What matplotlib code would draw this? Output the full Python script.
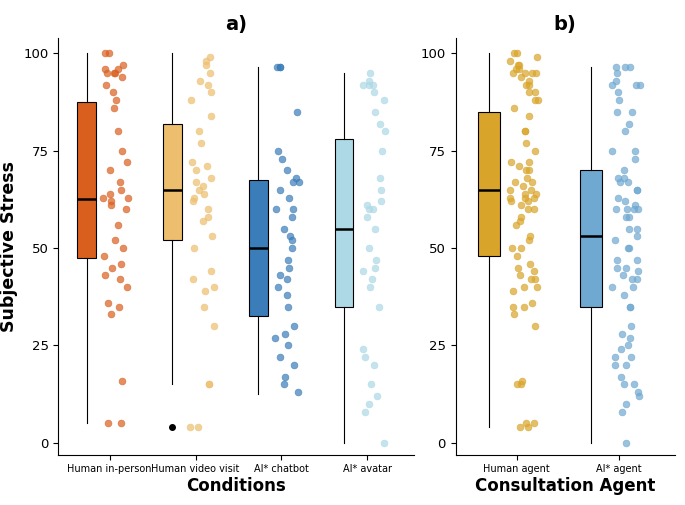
import matplotlib
matplotlib.use("Agg")
import matplotlib.pyplot as plt
import numpy as np

cats_a = ["Human in-person", "Human video visit", "AI* chatbot", "AI* avatar"]
cats_b = ["Human agent", "AI* agent"]
inperson = [100,100,97,96,96,95,95,95,94,92,90,88,86,80,75,72,70,67,65,64,63,63,62,61,60,56,52,50,48,46,45,43,42,40,36,35,33,16,5,5]
video = [99,98,97,95,93,92,90,88,84,80,77,72,71,70,68,67,66,65,64,63,62,60,58,57,53,50,44,42,40,39,35,30,15,15,4,4]
chatbot = [96.5,96.5,96.5,85,75,73,70,68,67,67,65,63,60,60,58,55,53,52,50,47,45,43,42,40,38,35,30,28,27,25,22,20,17,15,13]
avatar = [95,93,92,92,92,90,88,85,82,80,75,68,65,62,61,60,60,58,55,50,47,45,44,42,40,35,24,22,20,15,12,10,8,0]
data_a = [inperson, video, chatbot, avatar]
data_b = [inperson + video, chatbot + avatar]
# box stats: whislo, q1, med, q3, whishi, outliers
stats_a = [(5,47.5,62.5,87.5,100,[]),(15,52,65,82,100,[4]),(12.5,32.5,50,67.5,96.5,[]),(0,35,55,78,95,[])]
stats_b = [(4,48,65,85,100,[]),(0,35,53,70,96.5,[])]
cols_a = ["#D95F1E","#EDBE6E","#3A7DB8","#ADD8E6"]
cols_b = ["#D9A42A","#6FA8D0"]

fig = plt.figure(figsize=(6.85,5.05), dpi=100)
ax1 = fig.add_axes([0.085,0.1,0.52,0.825])
ax2 = fig.add_axes([0.665,0.1,0.32,0.825])
rng = np.random.default_rng(3)

def panel(ax, cats, data, stats, cols, title, xlabel, spread):
    n = len(cats)
    pos = np.arange(n)
    bs = [dict(whislo=s[0], q1=s[1], med=s[2], q3=s[3], whishi=s[4], fliers=s[5]) for s in stats]
    b = ax.bxp(bs, positions=pos-0.27, widths=0.22, patch_artist=True, showcaps=False,
               medianprops=dict(color="black", lw=1.8), whiskerprops=dict(lw=0.8),
               flierprops=dict(marker="o", markerfacecolor="black", markeredgecolor="black", markersize=4))
    for p, c in zip(b["boxes"], cols):
        p.set_facecolor(c); p.set_edgecolor("black"); p.set_linewidth(0.8)
    for i, (d, c) in enumerate(zip(data, cols)):
        x = i + 0.07 + rng.uniform(-spread, spread, len(d))
        ax.scatter(x, d, s=24, color=c, alpha=0.7, edgecolors=c, linewidths=0.5, zorder=3)
    ax.set_xticks(pos); ax.set_xticklabels(cats, fontsize=7)
    ax.set_xlim(-0.6, n-0.45)
    ax.set_ylim(-3, 104)
    ax.set_yticks([0,25,50,75,100])
    ax.tick_params(axis="y", labelsize=9.5)
    ax.set_title(title, fontweight="bold", fontsize=14)
    ax.set_xlabel(xlabel, fontweight="bold", fontsize=12, labelpad=2)
    for s in ["top","right"]:
        ax.spines[s].set_visible(False)

panel(ax1, cats_a, data_a, stats_a, cols_a, "a)", "Conditions", 0.15)
panel(ax2, cats_b, data_b, stats_b, cols_b, "b)", "Consultation Agent", 0.14)
ax1.set_ylabel("Subjective Stress", fontweight="bold", fontsize=12.5)
fig.savefig("out.png", dpi=100)
